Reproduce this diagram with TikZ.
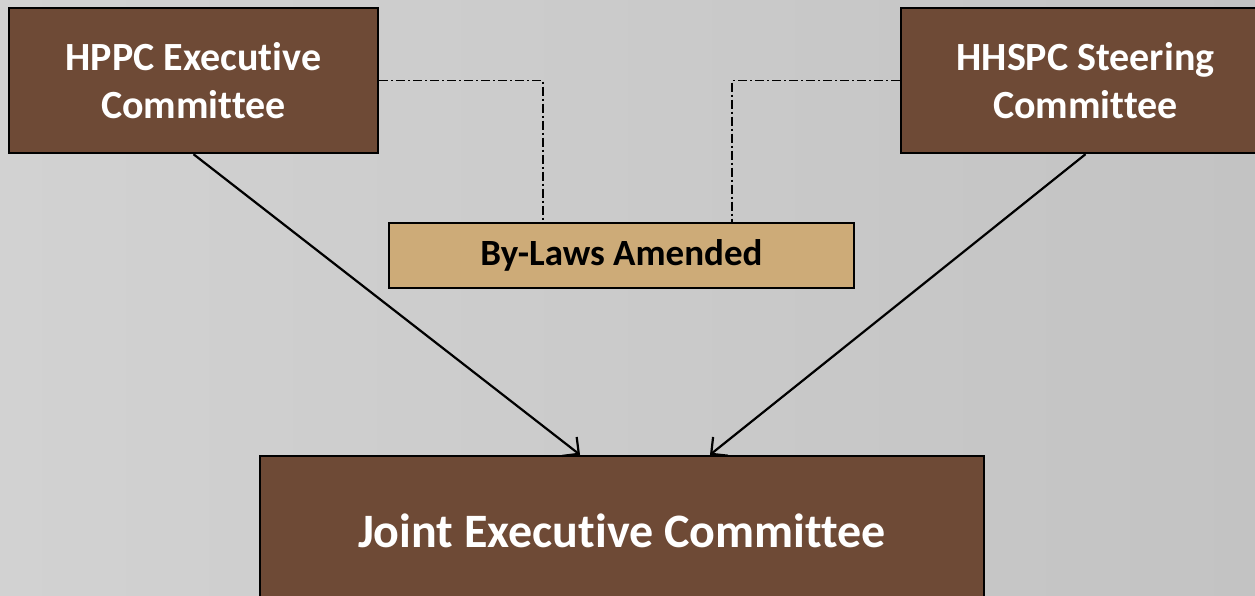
\documentclass[tikz,border=0pt]{standalone}
\usepackage{fontspec}
\setmainfont{Carlito}[Ligatures={NoCommon}]
\usetikzlibrary{arrows.meta}
\definecolor{bark}{HTML}{6E4A36}
\definecolor{sand}{HTML}{CDAB78}
\definecolor{bgleft}{HTML}{D2D2D2}
\definecolor{bgright}{HTML}{C3C3C3}
\tikzset{
  committee/.style={draw=black, line width=2.4pt, fill=bark, text=white,
    font=\bfseries\fontsize{40}{48}\selectfont, align=center,
    inner sep=0pt, minimum width=369pt, minimum height=145pt},
  joint/.style={committee, font=\bfseries\fontsize{48}{58}\selectfont,
    minimum width=724pt, minimum height=150pt},
  note/.style={draw=black, line width=1.6pt, fill=sand, text=black,
    font=\bfseries\fontsize{37}{44}\selectfont,
    inner sep=0pt, minimum width=465pt, minimum height=65pt},
  flow/.style={line width=2.2pt, -{Straight Barb[length=12pt,width=24pt,line width=2.2pt]}},
  link/.style={line width=1.8pt, dash pattern=on 9pt off 3pt on 2pt off 3pt}
}
\begin{document}
\begin{tikzpicture}[x=1pt, y=-1pt]
  \useasboundingbox (0,0) rectangle (1255,596);
  \shade[left color=bgleft, right color=bgright] (0,0) rectangle (1255,596);
  \clip (0,0) rectangle (1255,596);

  \node[committee] (hppc)  at (193.5,80.5) {HPPC Executive\\Committee};
  \node[committee] (hhspc) at (1085.5,80.5) {HHSPC Steering\\Committee};
  \node[note]      (laws)  at (621.5,255.5) {By-Laws Amended};
  \node[joint]     (jec)   at (622,531) {Joint Executive Committee};

  \draw[link] (hppc.east) -| ([xshift=-78.5pt]laws.north);
  \draw[link] (hhspc.west) -| ([xshift=110.5pt]laws.north);

  \draw[flow] (hppc.south) -- ([xshift=-42pt]jec.north);
  \draw[flow] (hhspc.south) -- ([xshift=88pt]jec.north);
\end{tikzpicture}
\end{document}
